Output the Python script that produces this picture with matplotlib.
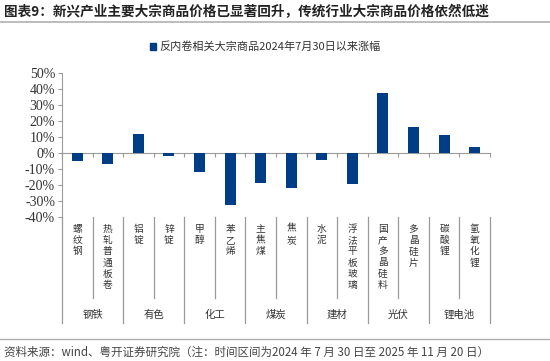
import matplotlib.pyplot as plt
import matplotlib.transforms as mtransforms
from matplotlib.lines import Line2D

plt.rcParams['font.family'] = ['Noto Sans CJK SC', 'DejaVu Sans']

# data
products = ['螺纹钢', '热轧普通板卷', '铝锭', '锌锭', '甲醇', '苯乙烯', '主焦煤', '焦炭',
            '水泥', '浮法平板玻璃', '国产多晶硅料', '多晶硅片', '碳酸锂', '氢氧化锂']
groups = ['钢铁', '有色', '化工', '煤炭', '建材', '光伏', '锂电池']
changes = [-5.4, -7.0, 12.0, -2.0, -11.9, -32.7, -19.0, -22.0,
           -4.4, -19.4, 37.3, 16.0, 11.0, 3.5]
yticks = [50, 40, 30, 20, 10, 0, -10, -20, -30, -40]

blue = '#003D87'
grey = '#9a9a9a'
txt = '#333333'

fig = plt.figure(figsize=(5.5, 3.61), dpi=100)
ax = fig.add_axes([0.1127, 0.3997, 0.7782, 0.3981])

x = list(range(len(products)))
ax.bar(x, changes, width=0.36, color=blue, zorder=3)

ax.set_xlim(-0.5, len(products) - 0.5)
ax.set_ylim(-40, 50)
ax.set_yticks(yticks)
ax.set_yticklabels([f'{v}%' for v in yticks], family='Liberation Serif',
                   fontsize=10, color=txt)

for s in ['top', 'right']:
    ax.spines[s].set_visible(False)
ax.spines['left'].set_color(grey)
ax.spines['bottom'].set_color(grey)
ax.spines['bottom'].set_position(('data', 0))
ax.set_xticks([i + 0.5 for i in range(-1, len(products))])
ax.set_xticklabels([])
ax.tick_params(axis='x', direction='out', length=3, color=grey)
ax.tick_params(axis='y', direction='out', length=3, color=grey, pad=2)

# category table below the plot
trans = mtransforms.blended_transform_factory(ax.transData, ax.transAxes)
for i in range(len(products) + 1):
    xb = i - 0.5
    ybot = -0.74 if i % 2 == 0 else -0.566
    ax.add_line(Line2D([xb, xb], [0, ybot], color=grey, lw=0.9,
                       transform=trans, clip_on=False))
for i, name in enumerate(products):
    ax.text(i, -0.05, '\n'.join(name), transform=trans, ha='center', va='top',
            fontsize=7, color=txt, linespacing=1.15)
for g, name in enumerate(groups):
    ax.text(2 * g + 0.5, -0.684, name, transform=trans, ha='center', va='center',
            fontsize=7.5, color=txt)

# legend
fig.patches.append(plt.Rectangle((0.272, 0.862), 0.012, 0.018, color=blue,
                                 transform=fig.transFigure))
fig.text(0.29, 0.871, '反内卷相关大宗商品2024年7月30日以来涨幅', fontsize=8,
         color=txt, va='center', ha='left')

# title, footer and rules
fig.text(0.008, 0.967, '图表9：新兴产业主要大宗商品价格已显著回升，传统行业大宗商品价格依然低迷',
         fontsize=9.8, fontweight='bold', color='#222222', va='center', ha='left')
fig.add_artist(Line2D([0, 1], [0.94, 0.94], color='#b0b0b0', lw=1.2))
fig.add_artist(Line2D([0, 1], [0.062, 0.062], color='#b0b0b0', lw=1.0))
fig.text(0.008, 0.025, '资料来源：wind、粤开证券研究院（注：时间区间为2024 年 7 月 30 日至 2025 年 11 月 20 日）',
         fontsize=8.3, style='italic', color='#444444', va='center', ha='left')

fig.savefig('out.png', dpi=100)
